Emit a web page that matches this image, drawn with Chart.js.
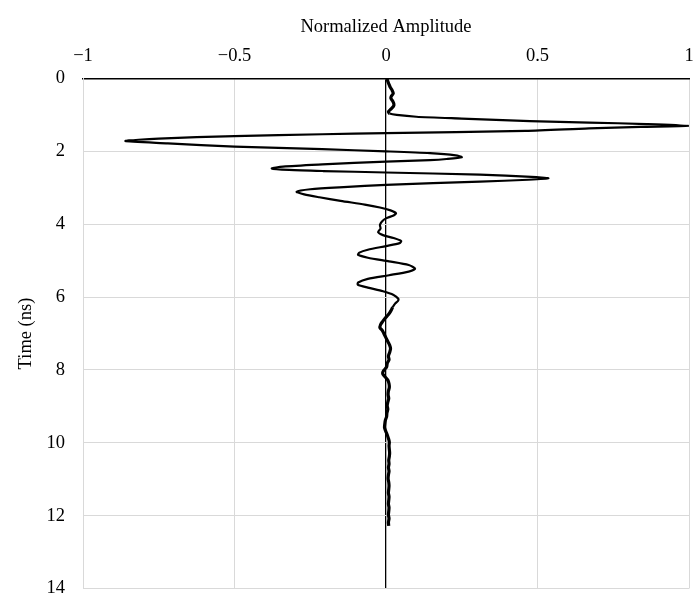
<!DOCTYPE html>
<html><head><meta charset="utf-8">
<script src="https://cdn.jsdelivr.net/npm/chart.js@4/dist/chart.umd.min.js"></script>
<style>html,body{margin:0;padding:0;background:#fff}#wrap{width:695px;height:599px}</style>
</head><body><div id="wrap"><canvas id="c" width="695" height="599"></canvas></div>
<script>
const timeNs = [
0.00,0.08,0.16,0.24,0.32,0.41,0.48,0.54,0.62,0.70,0.76,0.84,0.91,0.96,
1.00,1.05,1.10,1.17,1.21,1.25,1.295,1.33,1.37,1.44,1.50,1.53,1.58,1.65,1.716,1.78,1.87,1.94,
2.00,2.05,2.11,2.16,2.21,2.24,2.28,2.36,2.42,2.47,2.51,2.54,2.58,2.64,2.70,2.74,2.78,2.83,2.92,2.98,
3.04,3.11,3.18,3.26,3.36,3.46,3.54,3.62,3.70,3.76,3.84,3.93,
4.02,4.12,4.22,4.30,4.38,4.46,4.52,4.60,4.70,4.78,4.84,4.92,
5.02,5.12,5.22,5.30,5.40,5.50,5.60,5.66,5.74,5.84,5.94,
6.04,6.10,6.18,6.28,6.38,6.48,6.58,6.68,6.76,6.84,6.92,
7.02,7.12,7.22,7.32,7.42,7.52,7.62,7.72,7.82,7.92,
8.02,8.10,8.18,8.28,8.38,8.48,8.58,8.68,8.78,8.88,8.98,
9.08,9.18,9.28,9.38,9.48,9.58,9.68,9.78,9.88,9.98,
10.08,10.18,10.28,10.38,10.48,10.58,10.68,10.78,10.88,10.98,
11.08,11.18,11.28,11.38,11.48,11.58,11.68,11.78,11.88,11.98,
12.08,12.18,12.28
];
const amplitude = [
0.003,0.006,0.010,0.014,0.020,0.024,0.018,0.016,0.022,0.026,0.025,0.016,0.008,0.012,
0.035,0.10,0.25,0.475,0.67,0.86,1.00,0.84,0.67,0.46,0.00,-0.21,-0.50,-0.75,-0.86,-0.72,-0.50,-0.21,
0.00,0.145,0.23,0.25,0.20,0.145,0.00,-0.21,-0.34,-0.377,-0.32,-0.207,0.00,0.31,0.48,0.536,0.47,0.31,0.00,-0.14,
-0.25,-0.295,-0.27,-0.22,-0.15,-0.07,-0.02,0.015,0.033,0.025,0.000,-0.014,
-0.020,-0.018,-0.026,-0.010,0.025,0.050,0.045,0.000,-0.060,-0.088,-0.092,-0.060,
0.010,0.075,0.096,0.075,0.010,-0.060,-0.092,-0.093,-0.060,-0.010,0.025,
0.040,0.040,0.030,0.022,0.016,0.008,-0.003,-0.012,-0.018,-0.020,-0.012,
-0.006,0.000,0.006,0.012,0.015,0.012,0.008,0.010,0.004,0.002,
-0.008,-0.011,-0.004,0.006,0.010,0.011,0.008,0.007,0.009,0.006,0.004,
0.006,0.003,0.002,-0.002,-0.004,-0.005,-0.001,0.004,0.008,0.011,
0.010,0.011,0.012,0.011,0.009,0.010,0.008,0.010,0.008,0.007,
0.009,0.010,0.009,0.008,0.010,0.009,0.008,0.010,0.009,0.008,
0.010,0.008,0.009
];
const xTickValues = [-1, -0.5, 0, 0.5, 1];
const yTickValues = [0, 2, 4, 6, 8, 10, 12, 14];
const xTitle = 'Normalized Amplitude';
const yTitle = 'Time (ns)';

const points = timeNs.map((t, i) => ({ x: amplitude[i], y: t }));
const FONT = { family: '"Liberation Serif", "Times New Roman", serif', size: 18.5 };
const TXT = '#000';
const GRID = '#d9d9d9';
const fmt = v => (v < 0 ? '\u2212' + Math.abs(v) : String(v));

new Chart(document.getElementById('c'), {
  type: 'scatter',
  data: { datasets: [{
    data: points,
    showLine: true,
    pointRadius: 0,
    borderColor: '#000',
    borderWidth: 2.2,
    tension: 0.25,
    segment: {
      borderWidth: c => (c.p0.parsed.y > 6.2 || c.p1.parsed.y < 0.97) ? 3.2 : 2.2
    }
  }]},
  options: {
    responsive: false,
    animation: false,
    layout: { padding: { left: 0, right: 6, top: 0, bottom: 10.5 } },
    plugins: { legend: { display: false }, tooltip: { enabled: false } },
    scales: {
      x: {
        type: 'linear', position: 'top', min: -1, max: 1,
        afterBuildTicks: s => { s.ticks = xTickValues.map(v => ({ value: v })); },
        afterFit: s => { s.height = 78.5; s.paddingLeft = 0; s.paddingRight = 0; },
        ticks: { callback: v => fmt(v), font: FONT, color: TXT, padding: 11, maxRotation: 0 },
        grid: {
          drawTicks: false,
          color: c => (c.tick && c.tick.value === 0) ? '#000' : GRID,
          lineWidth: c => (c.tick && c.tick.value === 0) ? 1.3 : 1
        },
        border: { display: true, color: '#000', width: 1.5 },
        title: { display: true, text: xTitle, font: FONT, color: TXT, padding: { top: 16, bottom: 0 } }
      },
      y: {
        type: 'linear', position: 'left', reverse: true, min: 0, max: 14,
        afterBuildTicks: s => { s.ticks = yTickValues.map(v => ({ value: v })); },
        afterFit: s => { s.width = 83; s.paddingTop = 0; s.paddingBottom = 0; },
        ticks: { callback: v => fmt(v), font: FONT, color: TXT, padding: 18 },
        grid: {
          drawTicks: false,
          color: c => (c.tick && c.tick.value === 0) ? 'rgba(0,0,0,0)' : GRID
        },
        border: { display: true, color: GRID, width: 1 },
        title: { display: true, text: yTitle, font: FONT, color: TXT, padding: { top: 15, bottom: 0 } }
      }
    }
  }
});
</script>
</body></html>
